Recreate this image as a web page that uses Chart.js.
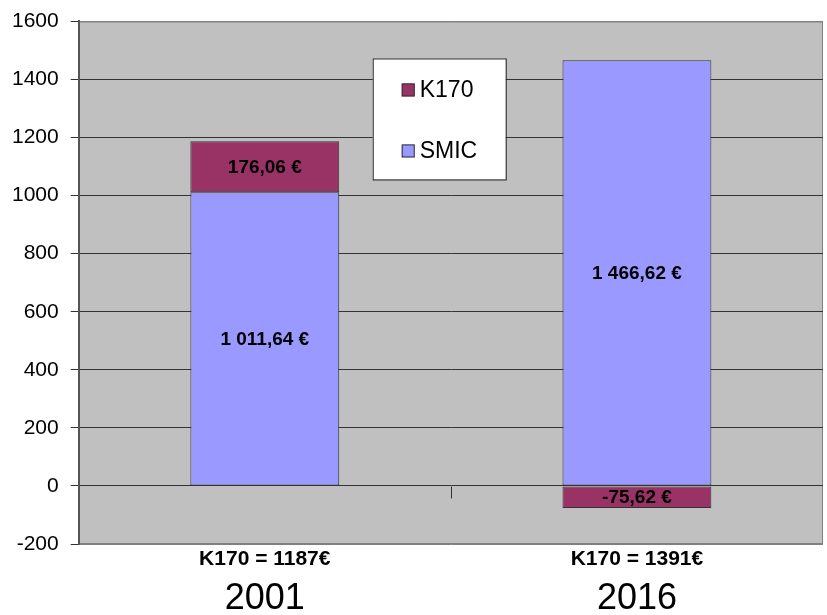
<!DOCTYPE html>
<html>
<head>
<meta charset="utf-8">
<script src="https://cdn.jsdelivr.net/npm/chart.js@4.4.1/dist/chart.umd.min.js"></script>
<style>
  html, body { margin: 0; padding: 0; background: #fff; }
  #wrap { width: 827px; height: 615px; }
</style>
</head>
<body>
<div id="wrap"><canvas id="myChart" width="827" height="615"></canvas></div>
<script>
// values
var years = ['2001', '2016'];
var k170Totals = ['K170 = 1187€', 'K170 = 1391€'];
var smicValues = [1011.64, 1466.62];
var k170Values = [176.06, -75.62];
var yMin = -200, yMax = 1600, yStep = 200;

var FONT = "'Liberation Sans', Arial, sans-serif";
var NARROW = "'Liberation Sans Narrow', 'Arial Narrow', 'Liberation Sans', sans-serif";

function euro(v) {
  var parts = Math.abs(v).toFixed(2).split('.');
  var ent = parts[0].replace(/\B(?=(\d{3})+(?!\d))/g, ' ');
  return (v < 0 ? '-' : '') + ent + ',' + parts[1] + ' €';
}

// gray plot area + border
var plotBg = {
  id: 'plotBg',
  beforeDraw: function(chart) {
    var a = chart.chartArea, ctx = chart.ctx;
    ctx.save();
    ctx.fillStyle = '#c0c0c0';
    ctx.fillRect(a.left, a.top, a.right - a.left, a.bottom - a.top);
    ctx.strokeStyle = '#808080';
    ctx.lineWidth = 1;
    ctx.strokeRect(a.left + 0.5, a.top + 0.5, a.right - a.left - 1, a.bottom - a.top - 1);
    ctx.restore();
  },
  afterDatasetsDraw: function(chart) {
    // category ticks hanging under the zero line
    var x = chart.scales.x, y = chart.scales.y, ctx = chart.ctx;
    var y0 = Math.round(y.getPixelForValue(0)) + 0.5;
    ctx.save();
    ctx.strokeStyle = '#333';
    ctx.lineWidth = 1;
    for (var i = 0; i < years.length - 1; i++) {
      var xm = Math.round((x.getPixelForValue(i) + x.getPixelForValue(i + 1)) / 2) + 0.5;
      ctx.beginPath();
      ctx.moveTo(xm, y0);
      ctx.lineTo(xm, y0 + 12);
      ctx.stroke();
    }
    ctx.restore();
  }
};

// value labels in the segments
var barLabels = {
  id: 'barLabels',
  afterDatasetsDraw: function(chart) {
    var ctx = chart.ctx;
    ctx.save();
    ctx.font = 'bold 19px ' + FONT;
    ctx.fillStyle = '#000';
    ctx.textAlign = 'center';
    ctx.textBaseline = 'middle';
    chart.data.datasets.forEach(function(ds, di) {
      chart.getDatasetMeta(di).data.forEach(function(el, i) {
        ctx.fillText(euro(ds.data[i]), el.x, (el.y + el.base) / 2 + 1);
      });
    });
    ctx.restore();
  }
};

// legend box floating inside the plot
var boxLegend = {
  id: 'boxLegend',
  afterDraw: function(chart) {
    var ctx = chart.ctx, a = chart.chartArea;
    var bx = a.left + 294, by = a.top + 37, bw = 133, bh = 121;
    ctx.save();
    ctx.fillStyle = '#fff';
    ctx.fillRect(bx, by, bw, bh);
    ctx.strokeStyle = '#222';
    ctx.lineWidth = 1;
    ctx.strokeRect(bx + 0.5, by + 0.5, bw, bh);
    var items = chart.data.datasets.slice().reverse();
    ctx.font = '23px ' + FONT;
    ctx.textBaseline = 'middle';
    ctx.textAlign = 'left';
    items.forEach(function(ds, i) {
      var cy = by + 31 + i * 61;
      ctx.fillStyle = ds.backgroundColor;
      ctx.fillRect(bx + 29, cy - 6, 13, 13);
      ctx.strokeStyle = '#333';
      ctx.strokeRect(bx + 29.5, cy - 5.5, 12, 12);
      ctx.fillStyle = '#000';
      ctx.fillText(ds.label, bx + 47, cy + 1);
    });
    ctx.restore();
  }
};

var ctx = document.getElementById('myChart').getContext('2d');
var myChart = new Chart(ctx, {
  type: 'bar',
  data: {
    labels: years,
    datasets: [
      {
        label: 'SMIC',
        data: smicValues,
        backgroundColor: '#9999ff',
        borderColor: '#333',
        borderWidth: 1,
        borderSkipped: false
      },
      {
        label: 'K170',
        data: k170Values,
        backgroundColor: '#993366',
        borderColor: '#333',
        borderWidth: 1,
        borderSkipped: false
      }
    ]
  },
  options: {
    responsive: false,
    animation: false,
    devicePixelRatio: 1,
    layout: { padding: { top: 0, right: 4, left: 0, bottom: -8 } },
    datasets: { bar: { categoryPercentage: 1, barPercentage: 0.4 } },
    plugins: {
      legend: { display: false },
      tooltip: { enabled: false }
    },
    scales: {
      x: {
        stacked: true,
        grid: { display: false },
        border: { display: false },
        ticks: {
          color: '#000',
          padding: -3,
          font: { family: FONT, size: 21, weight: 'bold', lineHeight: 1 },
          callback: function(v, i) { return k170Totals[i]; }
        }
      },
      year: {
        type: 'category',
        position: 'bottom',
        labels: years,
        weight: 1,
        grid: { display: false },
        border: { display: false },
        ticks: {
          color: '#000',
          padding: 6,
          font: { family: NARROW, size: 36, lineHeight: 1 }
        }
      },
      y: {
        stacked: true,
        min: yMin,
        max: yMax,
        ticks: {
          stepSize: yStep,
          color: '#000',
          padding: 12,
          font: { family: FONT, size: 21, lineHeight: 0.9 },
          callback: function(v) { return String(v); }
        },
        grid: {
          color: function(c) {
            var v = c.tick ? c.tick.value : 0;
            return (v === yMin || v === yMax) ? '#808080' : '#333';
          },
          tickColor: '#333',
          tickLength: 8,
          lineWidth: 1
        },
        border: { color: '#555', width: 2 }
      }
    }
  },
  plugins: [plotBg, barLabels, boxLegend]
});
</script>
</body>
</html>
